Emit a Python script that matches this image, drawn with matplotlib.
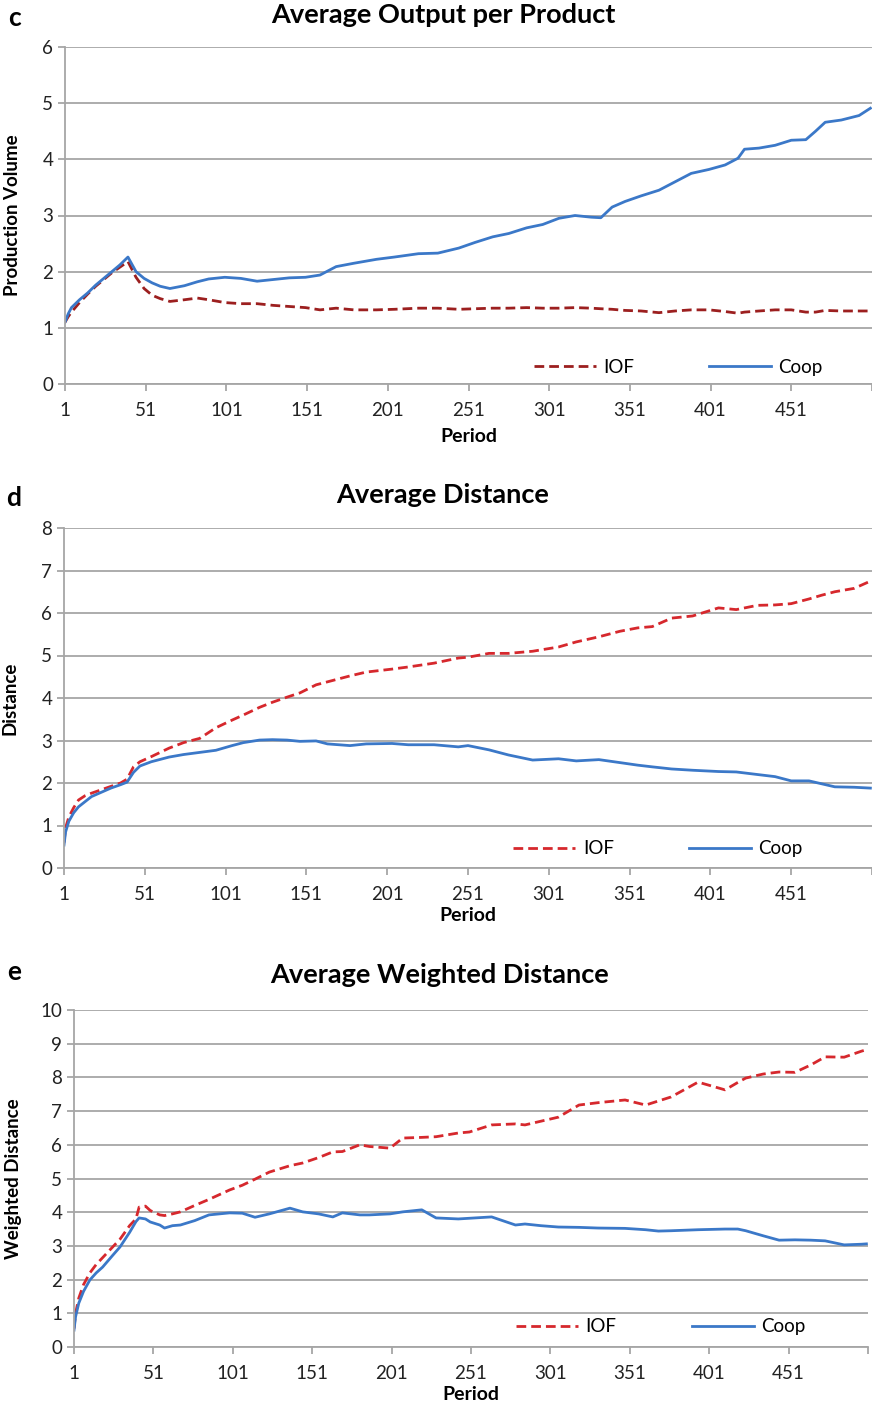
import matplotlib
matplotlib.use("Agg")
import matplotlib.pyplot as plt

plt.rcParams['font.family'] = ['Lato', 'DejaVu Sans']

# ---- panel c: average output per product ----
periods_c = [1, 3, 5, 10, 15, 20, 25, 30, 35, 40, 45, 50, 55, 60, 66, 75, 83, 90, 100, 110,
             120, 130, 140, 150, 159, 169, 180, 194, 205, 220, 232, 245, 255, 266, 276, 287,
             297, 307, 317, 327, 333, 340, 348, 358, 369, 379, 389, 400, 410, 418, 422, 431,
             441, 451, 460, 466, 472, 482, 493, 500]
coop_c = [1.10, 1.25, 1.36, 1.50, 1.62, 1.76, 1.88, 2.00, 2.12, 2.26, 2.00, 1.88, 1.80, 1.74,
          1.70, 1.75, 1.82, 1.87, 1.90, 1.88, 1.83, 1.86, 1.89, 1.90, 1.94, 2.09, 2.15, 2.22,
          2.26, 2.32, 2.33, 2.42, 2.52, 2.62, 2.68, 2.78, 2.84, 2.95, 3.00, 2.97, 2.96, 3.15,
          3.25, 3.35, 3.45, 3.60, 3.75, 3.82, 3.90, 4.02, 4.18, 4.20, 4.25, 4.34, 4.35, 4.50,
          4.66, 4.70, 4.78, 4.91]
iof_c = [1.10, 1.20, 1.28, 1.45, 1.60, 1.74, 1.86, 1.98, 2.08, 2.18, 1.90, 1.70, 1.58, 1.52,
         1.47, 1.50, 1.53, 1.50, 1.45, 1.43, 1.43, 1.40, 1.38, 1.36, 1.32, 1.35, 1.32, 1.32,
         1.33, 1.35, 1.35, 1.33, 1.34, 1.35, 1.35, 1.36, 1.35, 1.35, 1.36, 1.35, 1.34, 1.33,
         1.31, 1.30, 1.27, 1.30, 1.32, 1.32, 1.29, 1.26, 1.28, 1.30, 1.32, 1.32, 1.28, 1.28,
         1.31, 1.30, 1.30, 1.30]

# ---- panel d: average distance ----
periods_d = [1, 2, 4, 7, 10, 14, 18, 24, 30, 36, 40, 44, 48, 55, 66, 75, 85, 95, 105, 112,
             122, 130, 139, 147, 157, 164, 178, 188, 204, 214, 230, 245, 251, 264, 276, 291,
             307, 318, 332, 345, 356, 365, 377, 390, 406, 417, 430, 441, 451, 462, 470, 478,
             490, 500]
coop_d = [0.54, 0.85, 1.10, 1.30, 1.44, 1.56, 1.68, 1.78, 1.88, 1.96, 2.02, 2.25, 2.40, 2.50,
          2.61, 2.67, 2.72, 2.77, 2.88, 2.95, 3.01, 3.02, 3.01, 2.98, 2.99, 2.92, 2.88, 2.92,
          2.93, 2.90, 2.90, 2.85, 2.88, 2.78, 2.66, 2.54, 2.57, 2.52, 2.55, 2.48, 2.42, 2.38,
          2.33, 2.30, 2.27, 2.26, 2.20, 2.15, 2.05, 2.05, 1.98, 1.91, 1.90, 1.88]
iof_d = [0.60, 0.95, 1.20, 1.42, 1.60, 1.70, 1.76, 1.84, 1.92, 2.00, 2.09, 2.38, 2.50, 2.62,
         2.82, 2.95, 3.05, 3.30, 3.48, 3.60, 3.78, 3.90, 4.02, 4.12, 4.31, 4.38, 4.52, 4.61,
         4.68, 4.73, 4.82, 4.94, 4.96, 5.05, 5.05, 5.10, 5.20, 5.32, 5.44, 5.57, 5.65, 5.68,
         5.88, 5.93, 6.12, 6.08, 6.18, 6.19, 6.22, 6.33, 6.42, 6.50, 6.58, 6.75]

# ---- panel e: average weighted distance ----
periods_e = [1, 2, 4, 7, 11, 15, 19, 25, 30, 36, 40, 42, 46, 49, 55, 58, 63, 68, 77, 86,
             99, 107, 115, 124, 137, 145, 155, 164, 170, 181, 187, 200, 208, 220, 229, 243,
             250, 264, 279, 285, 295, 306, 319, 331, 348, 361, 369, 377, 394, 411, 419, 424,
             435, 445, 455, 465, 474, 486, 497, 500]
coop_e = [0.50, 0.90, 1.30, 1.65, 1.99, 2.20, 2.37, 2.70, 2.97, 3.40, 3.72, 3.83, 3.80, 3.71,
          3.62, 3.53, 3.60, 3.62, 3.75, 3.92, 3.98, 3.97, 3.85, 3.95, 4.12, 4.01, 3.95, 3.86,
          3.98, 3.92, 3.92, 3.95, 4.01, 4.07, 3.83, 3.80, 3.82, 3.86, 3.62, 3.65, 3.60, 3.56,
          3.55, 3.53, 3.52, 3.48, 3.44, 3.45, 3.48, 3.50, 3.50, 3.45, 3.30, 3.17, 3.18, 3.17,
          3.15, 3.03, 3.05, 3.06]
iof_e = [0.55, 1.00, 1.45, 1.85, 2.20, 2.45, 2.65, 2.95, 3.20, 3.60, 3.80, 4.15, 4.18, 4.05,
         3.92, 3.90, 3.95, 4.01, 4.20, 4.38, 4.66, 4.80, 4.98, 5.19, 5.38, 5.46, 5.62, 5.79,
         5.80, 6.00, 5.95, 5.90, 6.20, 6.22, 6.24, 6.35, 6.38, 6.59, 6.62, 6.59, 6.70, 6.82,
         7.18, 7.25, 7.33, 7.18, 7.30, 7.42, 7.86, 7.63, 7.85, 7.98, 8.10, 8.16, 8.15, 8.37,
         8.61, 8.60, 8.78, 8.82]

tick_periods = list(range(1, 502, 50))
tick_labels = [str(p) for p in tick_periods[:-1]] + ['']

COOP_BLUE = '#3b78c8'
GRID = '#a6a6a6'


def draw_panel(fig, rect, periods, iof, coop, iof_color, ymax, ylabel, title, letter,
               title_x, title_y, letter_y, ylabel_x, period_y, legend_x, legend_y):
    ax = fig.add_axes(rect)
    ax.plot(periods, iof, color=iof_color, lw=2.0, ls=(0, (3.5, 1.8)), label='IOF')
    ax.plot(periods, coop, color=COOP_BLUE, lw=2.0, label='Coop')
    ax.set_xlim(1, 501)
    ax.set_ylim(0, ymax)
    ax.set_yticks(range(0, ymax + 1))
    ax.set_xticks(tick_periods)
    ax.set_xticklabels(tick_labels)
    ax.grid(axis='y', color=GRID, lw=1.3)
    ax.set_axisbelow(True)
    for s in ['top', 'right']:
        ax.spines[s].set_visible(False)
    for s in ['left', 'bottom']:
        ax.spines[s].set_color(GRID)
        ax.spines[s].set_linewidth(1.3)
    ax.tick_params(axis='both', colors=GRID, length=5, width=1.3, labelsize=13.5,
                   labelcolor='#222222')
    ax.tick_params(axis='x', pad=8)
    ax.set_ylabel(ylabel, fontsize=13.5, fontweight='bold')
    ax.yaxis.set_label_coords(ylabel_x, 0.5)
    ax.set_xlabel('Period', fontsize=14, fontweight='bold')
    ax.xaxis.set_label_coords(0.5, period_y)
    ax.legend(loc='center', bbox_to_anchor=(legend_x, legend_y), ncol=2, frameon=False,
              fontsize=13.5, handlelength=3.3, columnspacing=4.0, handletextpad=0.4)
    fig.text(title_x, title_y, title, ha='center', va='center', fontsize=19.5,
             fontweight='bold')
    fig.text(14 / 872, letter_y, letter, ha='center', va='center', fontsize=19,
             fontweight='bold')
    return ax


fig = plt.figure(figsize=(8.72, 14.08), dpi=100)
H = 1408.0
W = 872.0

draw_panel(fig, [65 / W, 1 - 384 / H, 807 / W, 337 / H], periods_c, iof_c, coop_c,
           '#9c1f1f', 6, 'Production Volume', 'Average Output per Product', 'c',
           443 / W, 1 - 15 / H, 1 - 18 / H, -0.054, -0.13, 0.76, 0.05)
draw_panel(fig, [64 / W, 1 - 868 / H, 808 / W, 340 / H], periods_d, iof_d, coop_d,
           '#d6282d', 8, 'Distance', 'Average Distance', 'd',
           443 / W, 1 - 495 / H, 1 - 498 / H, -0.056, -0.115, 0.735, 0.056)
draw_panel(fig, [74 / W, 1 - 1347 / H, 794 / W, 337 / H], periods_e, iof_e, coop_e,
           '#d6282d', 10, 'Weighted Distance', 'Average Weighted Distance', 'e',
           440 / W, 1 - 975 / H, 1 - 972 / H, -0.065, -0.116, 0.739, 0.06)

fig.savefig('out.png', dpi=100)
